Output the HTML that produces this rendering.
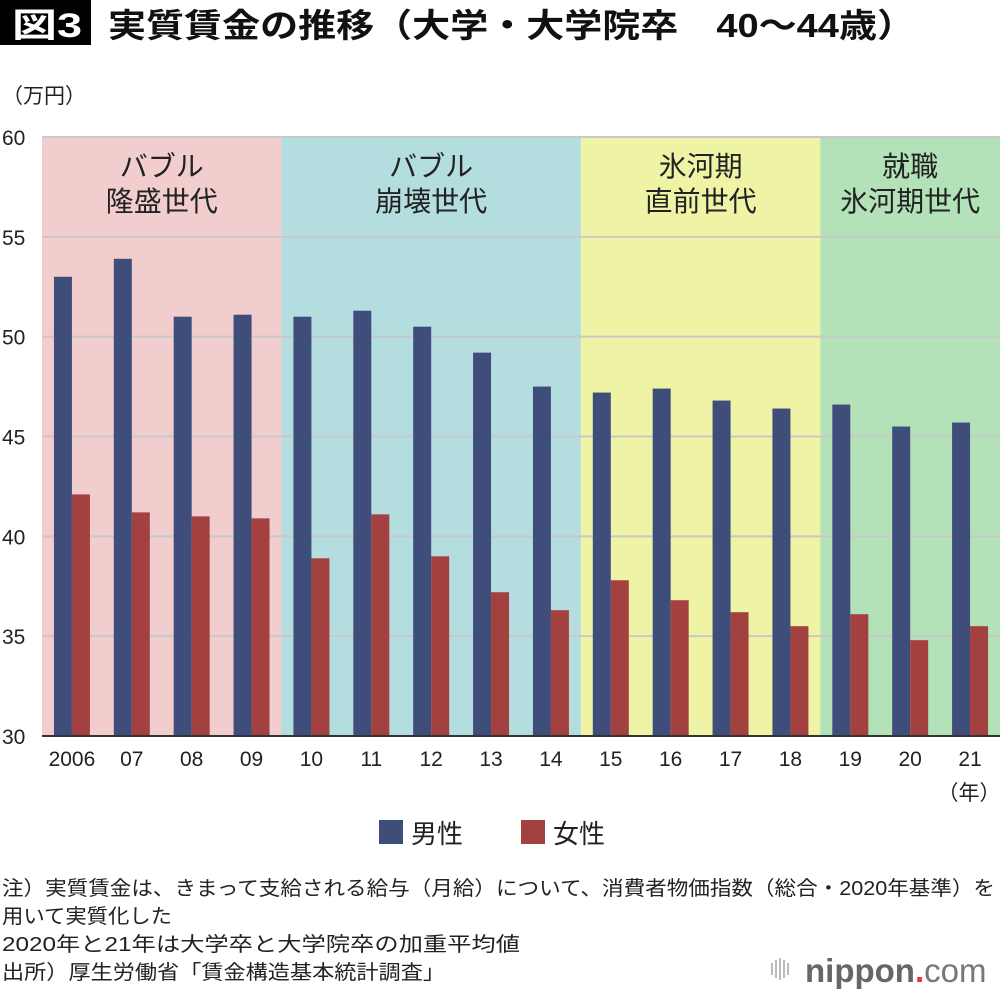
<!DOCTYPE html>
<html><head><meta charset="utf-8">
<style>
body{margin:0;width:1000px;height:994px;background:#fff;overflow:hidden;font-family:"Liberation Sans","Noto Sans CJK JP",sans-serif;}
svg text{font-family:"Liberation Sans","Noto Sans CJK JP",sans-serif;}
</style></head>
<body>
<svg id="chart" width="1000" height="994">
<rect x="0" y="0" width="91" height="45" fill="#000"/>
<text x="12" y="37" font-size="34" font-weight="bold" fill="#fff" textLength="70" lengthAdjust="spacingAndGlyphs">図3</text>
<text x="108" y="37" font-size="33" font-weight="bold" fill="#111" textLength="807" lengthAdjust="spacingAndGlyphs">実質賃金の推移（大学・大学院卒　40〜44歳）</text>
<text x="2" y="103" font-size="21" fill="#222">（万円）</text>
<g id="bands"></g><g id="grid"></g><g id="bars"></g><g id="axes"></g>
<g>
<rect x="379" y="820" width="24" height="24" fill="#3f4d7a"/>
<text x="411" y="843" font-size="26" fill="#222">男性</text>
<rect x="521" y="820" width="24" height="24" fill="#a34040"/>
<text x="553" y="843" font-size="26" fill="#222">女性</text>
</g>
<g font-size="20" fill="#222">
<text x="2" y="895" textLength="993" lengthAdjust="spacingAndGlyphs">注）実質賃金は、きまって支給される給与（月給）について、消費者物価指数（総合・2020年基準）を</text>
<text x="2" y="923" textLength="170" lengthAdjust="spacingAndGlyphs">用いて実質化した</text>
<text x="2" y="951" textLength="518" lengthAdjust="spacingAndGlyphs">2020年と21年は大学卒と大学院卒の加重平均値</text>
<text x="2" y="979" textLength="443" lengthAdjust="spacingAndGlyphs">出所）厚生労働省「賃金構造基本統計調査」</text>
</g>
<g>
<g fill="#bbb"><rect x="771" y="963" width="2" height="12"/><rect x="775" y="960" width="2" height="18"/><rect x="779" y="958" width="2" height="22"/><rect x="783" y="960" width="2" height="18"/><rect x="787" y="963" width="2" height="12"/></g>
<text x="805" y="982" font-size="33" font-weight="bold" fill="#666">nippon<tspan fill="#e33">.</tspan><tspan font-weight="normal" fill="#777">com</tspan></text>
</g>
</svg>
<script>
const categories=["2006","07","08","09","10","11","12","13","14","15","16","17","18","19","20","21"];
const maleValues=[53.0,53.9,51.0,51.1,51.0,51.3,50.5,49.2,47.5,47.2,47.4,46.8,46.4,46.6,45.5,45.7];
const femaleValues=[42.1,41.2,41.0,40.9,38.9,41.1,39.0,37.2,36.3,37.8,36.8,36.2,35.5,36.1,34.8,35.5];
const yTicks=[30,35,40,45,50,55,60];
const bandLabels=[["バブル","隆盛世代"],["バブル","崩壊世代"],["氷河期","直前世代"],["就職","氷河期世代"]];
const bandStarts=[0,4,9,13];
const bandEnds=[4,9,13,16];
const bandColors=["#f2cdcd","#b4dde0","#eef3a6","#b4e2b8"];
const NS="http://www.w3.org/2000/svg";
const X0=42,X1=1000,Y0=736,Y1=137;
const step=(X1-X0)/categories.length;
const x=i=>X0+i*step;
const y=v=>Y0-(v-30)/30*(Y0-Y1);
function mk(tag,attrs,parent,txt){const e=document.createElementNS(NS,tag);for(const k in attrs)e.setAttribute(k,attrs[k]);if(txt!==undefined)e.textContent=txt;parent.appendChild(e);return e;}
const bands=document.getElementById('bands'),grid=document.getElementById('grid'),bars=document.getElementById('bars'),axes=document.getElementById('axes');
bandLabels.forEach((lab,b)=>{
  const r=mk('rect',{x:x(bandStarts[b]),y:Y1,width:x(bandEnds[b])-x(bandStarts[b]),height:Y0-Y1,fill:bandColors[b]},bands);
  
  
  const cx=(x(bandStarts[b])+x(bandEnds[b]))/2;
  lab.forEach((t,j)=>{
    const tx=mk('text',{x:cx,y:176+j*35,'font-size':28,'text-anchor':'middle',fill:'#222'},bands,t);
    
    
  });
});
yTicks.forEach(v=>{
  const l=mk('line',{x1:X0,x2:X1,y1:y(v),y2:y(v),stroke:'#c8c8c8','stroke-width':2},grid);
  
  
  const t=mk('text',{x:2,y:y(v)+8,'font-size':21,fill:'#222'},axes,String(v));
  
  
});
categories.forEach((c,i)=>{
  const cx=x(i)+step/2;
  const m=mk('rect',{x:cx-18,y:y(maleValues[i]),width:18,height:Y0-y(maleValues[i]),fill:'#3f4d7a'},bars);
  
  
  const f=mk('rect',{x:cx,y:y(femaleValues[i]),width:18,height:Y0-y(femaleValues[i]),fill:'#a34040'},bars);
  
  
  const t=mk('text',{x:cx,y:766,'font-size':21,'text-anchor':'middle',fill:'#222'},axes,c);
  
  
});
const ax=mk('line',{x1:X0,x2:X1,y1:Y0,y2:Y0,stroke:'#333','stroke-width':2},axes);


const yl=mk('text',{x:969,y:800,'font-size':21,'text-anchor':'middle',fill:'#222'},axes,'（年）');


</script>
</body></html>
